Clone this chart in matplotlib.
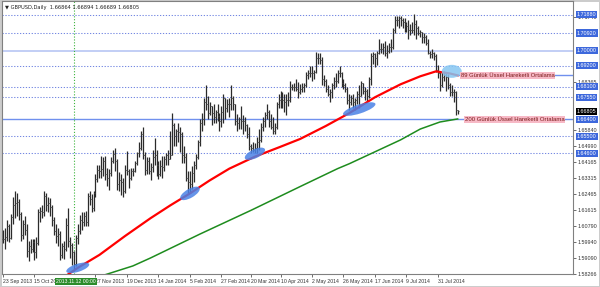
import numpy as np
import pandas as pd
import matplotlib
matplotlib.use('Agg')
import matplotlib.pyplot as plt
from matplotlib.patches import Ellipse
from matplotlib import transforms

# daily bars, 23 Sep 2013 - 14 Aug 2014 (no bars on 25 Dec / 1 Jan)
dates = pd.bdate_range('2013-09-23', '2014-08-14')
dates = dates[~dates.isin(pd.to_datetime(['2013-12-25', '2014-01-01']))]

closes = [
    1.6010, 1.6020, 1.6080, 1.6015, 1.6125, 1.6190, 1.6200, 1.6205, 1.6140, 1.6030,
    1.6090, 1.6060, 1.5950, 1.5975, 1.5960, 1.5995, 1.5940, 1.5990, 1.6150, 1.6155,
    1.6150, 1.6235, 1.6190, 1.6200, 1.6180, 1.6110, 1.6050, 1.6025, 1.6035, 1.5925,
    1.5975, 1.5960, 1.6085, 1.6000, 1.5980, 1.5940, 1.5880, 1.6015, 1.6050, 1.6110,
    1.6100, 1.6130, 1.6100, 1.6235, 1.6220, 1.6175, 1.6250, 1.6325, 1.6375, 1.6365,
    1.6380, 1.6420, 1.6350, 1.6330, 1.6355, 1.6420, 1.6455, 1.6420, 1.6300, 1.6320,
    1.6310, 1.6265, 1.6375, 1.6365, 1.6330, 1.6365, 1.6370, 1.6410, 1.6460,
    1.6490, 1.6560, 1.6450, 1.6375,
    1.6420, 1.6370, 1.6390, 1.6440, 1.6450, 1.6400, 1.6350, 1.6395, 1.6390, 1.6430,
    1.6450, 1.6430, 1.6450, 1.6610, 1.6550, 1.6580, 1.6570, 1.6560, 1.6450, 1.6440,
    1.6330, 1.6310, 1.6300, 1.6355, 1.6400, 1.6440, 1.6520, 1.6620, 1.6640, 1.6730,
    1.6720, 1.6670, 1.6710, 1.6670, 1.6650, 1.6680, 1.6655, 1.6630, 1.6680, 1.6750,
    1.6700, 1.6720, 1.6720, 1.6750, 1.6720, 1.6630, 1.6620, 1.6640, 1.6630, 1.6630,
    1.6610, 1.6560, 1.6500, 1.6490, 1.6480, 1.6490, 1.6520, 1.6530, 1.6600, 1.6630,
    1.6660, 1.6680, 1.6630, 1.6600, 1.6580, 1.6600, 1.6720, 1.6740, 1.6750, 1.6740,
    1.6730, 1.6740, 1.6740, 1.6810, 1.6810, 1.6810, 1.6800, 1.6780, 1.6800, 1.6810,
    1.6820, 1.6870, 1.6880, 1.6880, 1.6880, 1.6890, 1.6960, 1.6960, 1.6950, 1.6850,
    1.6840, 1.6800, 1.6770, 1.6780, 1.6820, 1.6840, 1.6840, 1.6880, 1.6880, 1.6830,
    1.6820, 1.6800, 1.6740, 1.6730, 1.6750, 1.6730, 1.6740, 1.6770, 1.6760, 1.6830,
    1.6790, 1.6790, 1.6760, 1.6850, 1.6970, 1.6980, 1.6960, 1.6990, 1.7010, 1.7010,
    1.7020, 1.6990, 1.7000, 1.7020, 1.7020, 1.7110, 1.7160, 1.7160, 1.7170, 1.7160,
    1.7150, 1.7140, 1.7130, 1.7110, 1.7110, 1.7110, 1.7140, 1.7120, 1.7090, 1.7100,
    1.7070, 1.7070, 1.7040, 1.6990, 1.6980, 1.6990, 1.6970, 1.6900, 1.6880, 1.6820,
    1.6860, 1.6870, 1.6860, 1.6820, 1.6780, 1.6780, 1.6780, 1.66864, 1.66805,
]
highs = [
    1.6060, 1.6070, 1.6110, 1.6090, 1.6140, 1.6230, 1.6260, 1.6250, 1.6220, 1.6150,
    1.6110, 1.6130, 1.6090, 1.6000, 1.6010, 1.6010, 1.6010, 1.6020, 1.6170, 1.6180,
    1.6190, 1.6260, 1.6250, 1.6230, 1.6225, 1.6190, 1.6125, 1.6090, 1.6070, 1.6050,
    1.5990, 1.6000, 1.6120, 1.6175, 1.6020, 1.5990, 1.5950, 1.6030, 1.6090, 1.6135,
    1.6150, 1.6150, 1.6160, 1.6250, 1.6260, 1.6245, 1.6260, 1.6350, 1.6400, 1.6400,
    1.6445, 1.6440, 1.6445, 1.6385, 1.6380, 1.6440, 1.6480, 1.6490, 1.6430, 1.6360,
    1.6350, 1.6330, 1.6400, 1.6475, 1.6380, 1.6385, 1.6385, 1.6420, 1.6470,
    1.6520, 1.6580, 1.6600, 1.6465,
    1.6440, 1.6440, 1.6410, 1.6480, 1.6540, 1.6480, 1.6420, 1.6425, 1.6445, 1.6445,
    1.6460, 1.6480, 1.6580, 1.6670, 1.6620, 1.6590, 1.6620, 1.6600, 1.6570, 1.6500,
    1.6460, 1.6365, 1.6365, 1.6395, 1.6420, 1.6455, 1.6530, 1.6640, 1.6670, 1.6750,
    1.6820, 1.6760, 1.6730, 1.6710, 1.6720, 1.6690, 1.6720, 1.6670, 1.6710, 1.6770,
    1.6745, 1.6745, 1.6750, 1.6820, 1.6760, 1.6720, 1.6665, 1.6650, 1.6710, 1.6660,
    1.6650, 1.6615, 1.6600, 1.6510, 1.6520, 1.6515, 1.6545, 1.6590, 1.6620, 1.6650,
    1.6680, 1.6720, 1.6690, 1.6665, 1.6650, 1.6620, 1.6730, 1.6770, 1.6790, 1.6785,
    1.6770, 1.6770, 1.6780, 1.6840, 1.6825, 1.6830, 1.6850, 1.6835, 1.6825, 1.6830,
    1.6830, 1.6885, 1.6900, 1.6920, 1.6920, 1.6900, 1.6995, 1.6990, 1.6990, 1.6965,
    1.6870, 1.6850, 1.6820, 1.6800, 1.6830, 1.6860, 1.6880, 1.6900, 1.6920, 1.6885,
    1.6850, 1.6830, 1.6810, 1.6770, 1.6765, 1.6770, 1.6750, 1.6790, 1.6820, 1.6840,
    1.6830, 1.6810, 1.6800, 1.6860, 1.6990, 1.6995, 1.6990, 1.7000, 1.7060, 1.7040,
    1.7040, 1.7050, 1.7030, 1.7040, 1.7060, 1.7120, 1.7180, 1.7180, 1.7180, 1.7180,
    1.7170, 1.7170, 1.7150, 1.7160, 1.7140, 1.7150, 1.7190, 1.7160, 1.7130, 1.7110,
    1.7100, 1.7090, 1.7080, 1.7060, 1.7000, 1.7010, 1.6995, 1.6980, 1.6925, 1.6890,
    1.6890, 1.6895, 1.6880, 1.6875, 1.6830, 1.6820, 1.6800, 1.6790, 1.66894,
]
lows = [
    1.5990, 1.5960, 1.6000, 1.5995, 1.6010, 1.6090, 1.6120, 1.6130, 1.6110, 1.6000,
    1.6010, 1.6030, 1.5915, 1.5895, 1.5935, 1.5940, 1.5900, 1.5910, 1.5980, 1.6100,
    1.6120, 1.6130, 1.6160, 1.6150, 1.6130, 1.6080, 1.6030, 1.5990, 1.5975, 1.5900,
    1.5910, 1.5905, 1.5950, 1.5970, 1.5910, 1.5875, 1.5855, 1.5870, 1.5985, 1.6035,
    1.6060, 1.6080, 1.6080, 1.6080, 1.6190, 1.6150, 1.6160, 1.6230, 1.6310, 1.6330,
    1.6330, 1.6340, 1.6320, 1.6290, 1.6270, 1.6340, 1.6410, 1.6370, 1.6270, 1.6260,
    1.6240, 1.6230, 1.6250, 1.6345, 1.6280, 1.6320, 1.6340, 1.6360, 1.6400,
    1.6440, 1.6480, 1.6430, 1.6345,
    1.6350, 1.6350, 1.6320, 1.6360, 1.6400, 1.6340, 1.6325, 1.6340, 1.6330, 1.6370,
    1.6400, 1.6400, 1.6440, 1.6450, 1.6500, 1.6500, 1.6520, 1.6470, 1.6410, 1.6410,
    1.6315, 1.6250, 1.6250, 1.6275, 1.6310, 1.6380, 1.6430, 1.6500, 1.6580, 1.6610,
    1.6690, 1.6640, 1.6660, 1.6610, 1.6620, 1.6620, 1.6630, 1.6580, 1.6600, 1.6620,
    1.6640, 1.6680, 1.6650, 1.6690, 1.6690, 1.6610, 1.6580, 1.6590, 1.6590, 1.6560,
    1.6580, 1.6540, 1.6480, 1.6460, 1.6470, 1.6460, 1.6460, 1.6480, 1.6520, 1.6580,
    1.6600, 1.6640, 1.6600, 1.6590, 1.6560, 1.6560, 1.6590, 1.6700, 1.6700, 1.6700,
    1.6680, 1.6660, 1.6710, 1.6730, 1.6795, 1.6790, 1.6790, 1.6750, 1.6770, 1.6780,
    1.6780, 1.6810, 1.6850, 1.6860, 1.6840, 1.6850, 1.6880, 1.6930, 1.6930, 1.6820,
    1.6815, 1.6780, 1.6760, 1.6730, 1.6750, 1.6800, 1.6810, 1.6830, 1.6860, 1.6810,
    1.6800, 1.6780, 1.6720, 1.6690, 1.6715, 1.6700, 1.6690, 1.6720, 1.6700, 1.6760,
    1.6770, 1.6740, 1.6730, 1.6750, 1.6820, 1.6930, 1.6915, 1.6925, 1.6980, 1.6985,
    1.6980, 1.6970, 1.6960, 1.6990, 1.6995, 1.7010, 1.7090, 1.7130, 1.7120, 1.7130,
    1.7120, 1.7100, 1.7100, 1.7060, 1.7080, 1.7090, 1.7080, 1.7060, 1.7080, 1.7070,
    1.7040, 1.7040, 1.7030, 1.6980, 1.6960, 1.6960, 1.6950, 1.6890, 1.6855, 1.6790,
    1.6810, 1.6840, 1.6790, 1.6800, 1.6760, 1.6760, 1.6730, 1.6660, 1.66689,
]

# moving averages
ema89_dates = ['2013-11-06', '2013-11-14', '2013-11-29', '2013-12-18', '2014-01-08',
               '2014-01-22', '2014-02-05', '2014-02-19', '2014-03-05', '2014-03-24',
               '2014-04-10', '2014-04-24', '2014-05-13', '2014-05-29', '2014-06-17',
               '2014-07-04', '2014-07-18', '2014-07-30', '2014-08-08', '2014-08-14']
ema89 = [1.5817, 1.5859, 1.5927, 1.6026, 1.6120, 1.6187, 1.6250, 1.6318, 1.6380, 1.6443,
         1.6495, 1.6536, 1.6604, 1.6672, 1.6755, 1.6823, 1.6865, 1.6891, 1.6880, 1.6870]
ema200_dates = ['2013-12-04', '2013-12-24', '2014-01-08', '2014-02-12', '2014-03-20',
                '2014-04-24', '2014-05-21', '2014-05-29', '2014-07-04', '2014-07-18',
                '2014-08-01', '2014-08-14']
ema200 = [1.5823, 1.5869, 1.5911, 1.6036, 1.6161, 1.6286, 1.6380, 1.6406, 1.6531, 1.6588,
          1.6625, 1.6641]

# drawn objects
dotted_levels = [1.71880, 1.70920, 1.69200, 1.68100, 1.67550, 1.65500, 1.64600]
level_70000 = 1.70000
level_66400 = 1.66400
level_89 = 1.68700
box_levels = [1.71880, 1.70920, 1.70000, 1.69200, 1.68100, 1.67550, 1.66400, 1.65500, 1.64600]
# price scale labels that are not hidden under the line boxes
axis_levels = [1.58266, 1.59090, 1.59940, 1.60790, 1.61615, 1.62465, 1.63315, 1.64165,
               1.64990, 1.65840, 1.68365, 1.71740]
touch_dates = ['2013-11-14', '2014-02-05', '2014-03-24', '2014-06-05', '2014-08-11']
touch_prices = [1.5859, 1.6250, 1.6458, 1.6693, 1.6891]
vline_date = '2013-11-12'
xlabel_dates = ['2013-09-23', '2013-10-15', '2013-11-27', '2013-12-19', '2014-01-14',
                '2014-02-05', '2014-02-27', '2014-03-20', '2014-04-10', '2014-05-02',
                '2014-05-26', '2014-06-17', '2014-07-09', '2014-07-31']

n = len(closes)
x = np.arange(n)
closes = np.array(closes)
opens = np.r_[closes[0], closes[:-1]]
opens[-1] = 1.66864
highs = np.maximum(np.array(highs), np.maximum(opens, closes))
lows = np.minimum(np.array(lows), np.minimum(opens, closes))

def idx(ds):
    return dates.get_indexer(pd.to_datetime(ds))

plt.rcParams['font.family'] = ['Liberation Sans', 'DejaVu Sans']

fig = plt.figure(figsize=(6, 2.87), dpi=100)
fig.patch.set_edgecolor('#cccccc')
fig.patch.set_linewidth(1)
ax = fig.add_axes([2 / 600, 13 / 287, 571 / 600, 273 / 287])
ax.set_xlim(-0.5, 289.6)
ax.set_ylim(1.58382, 1.72605)

# horizontal lines
for lv in dotted_levels:
    ax.axhline(lv, color='#7488e2', lw=0.75, ls=(0, (1.2, 1.6)), zorder=1)
ax.axhline(level_70000, color='#b8c6f4', lw=1.2, zorder=1)
ax.axhline(level_66400, color='#7090ee', lw=1.0, zorder=1)
ax.hlines(level_89, n - 1, 289.6, color='#7090ee', lw=1.0, zorder=1)
ax.axvline(idx([vline_date])[0], color='#3cb43c', lw=0.8, ls=(0, (1, 1.6)), zorder=1)

# bars
ax.vlines(x, lows, highs, color='#2b2b2b', lw=0.9, zorder=3)
ax.hlines(opens, x - 0.5, x, color='#4a4a4a', lw=0.7, zorder=3)
ax.hlines(closes, x, x + 0.5, color='#4a4a4a', lw=0.7, zorder=3)

# moving averages
ax.plot(idx(ema89_dates), ema89, color='#ff0000', lw=1.6, zorder=4)
ax.plot(idx(ema200_dates), ema200, color='#1e8c1e', lw=1.1, zorder=4)

# highlighted touches
sizes = [(24, 8, 18), (22, 9, 30), (22, 9, 25), (34, 9, 18), (20, 13, 0)]
colors = ['#4a82e6', '#4a82e6', '#4a82e6', '#4a82e6', '#86c6f2']
for d, p, (w, h, a), c in zip(touch_dates, touch_prices, sizes, colors):
    tr = fig.dpi_scale_trans + transforms.ScaledTranslation(idx([d])[0], p, ax.transData)
    ax.add_patch(Ellipse((0, 0), w / 100, h / 100, angle=a, transform=tr,
                         fc=c, ec='none', alpha=0.85, zorder=5))

# annotations
ax.text(n + 0.5, level_89, '89 Günlük Üssel Hareketli Ortalama', fontsize=4.2,
        color='#7a1a1a', va='center', ha='left', zorder=6,
        bbox=dict(boxstyle='square,pad=0.15', fc='#f7b9c6', ec='none'))
ax.text(n + 2.5, level_66400, '200 Günlük Üssel Hareketli Ortalama', fontsize=4.3,
        color='#7a1a1a', va='center', ha='left', zorder=6,
        bbox=dict(boxstyle='square,pad=0.15', fc='#f7b9c6', ec='none'))

# header
ax.text(0.006, 0.985, '\u25bc GBPUSD,Daily  1.66864 1.66894 1.66689 1.66805',
        transform=ax.transAxes, fontsize=3.7, color='#222222', va='top', ha='left',
        family=['DejaVu Sans'])

# right price axis
ax.yaxis.tick_right()
ax.set_yticks(axis_levels)
ax.set_yticklabels([f'{v:.5f}' for v in axis_levels])
ax.tick_params(axis='y', labelsize=3.9, length=2, width=0.5, pad=1.5, colors='#333333')
yt = transforms.blended_transform_factory(ax.transAxes, ax.transData)
for lv in box_levels:
    ax.text(1.0065, lv, f'{lv:.5f}', transform=yt, fontsize=3.9, color='white',
            va='center', ha='left', clip_on=False, zorder=7,
            bbox=dict(boxstyle='square,pad=0.2', fc='#3d68dc', ec='none'))
ax.text(1.0065, closes[-1], f'{closes[-1]:.5f}', transform=yt, fontsize=3.9, color='white',
        va='center', ha='left', clip_on=False, zorder=7,
        bbox=dict(boxstyle='square,pad=0.2', fc='black', ec='none'))

# time axis
xt = idx(xlabel_dates)
ax.set_xticks(xt)
ax.set_xticklabels([dates[i].strftime('%-d %b %Y') for i in xt])
for lab in ax.get_xticklabels():
    lab.set_horizontalalignment('left')
ax.tick_params(axis='x', labelsize=3.7, length=2, width=0.5, pad=1.5, colors='#333333')
xb = transforms.blended_transform_factory(ax.transData, ax.transAxes)
ax.text(idx([vline_date])[0] + 1, -0.026, '2013.11.12 00:00', transform=xb, fontsize=3.7,
        color='white', va='center', ha='center', clip_on=False, zorder=7,
        bbox=dict(boxstyle='square,pad=0.2', fc='#2a8c2a', ec='none'))

for s in ax.spines.values():
    s.set_color('#808080')
    s.set_linewidth(0.8)

fig.savefig('out.png', dpi=100)
